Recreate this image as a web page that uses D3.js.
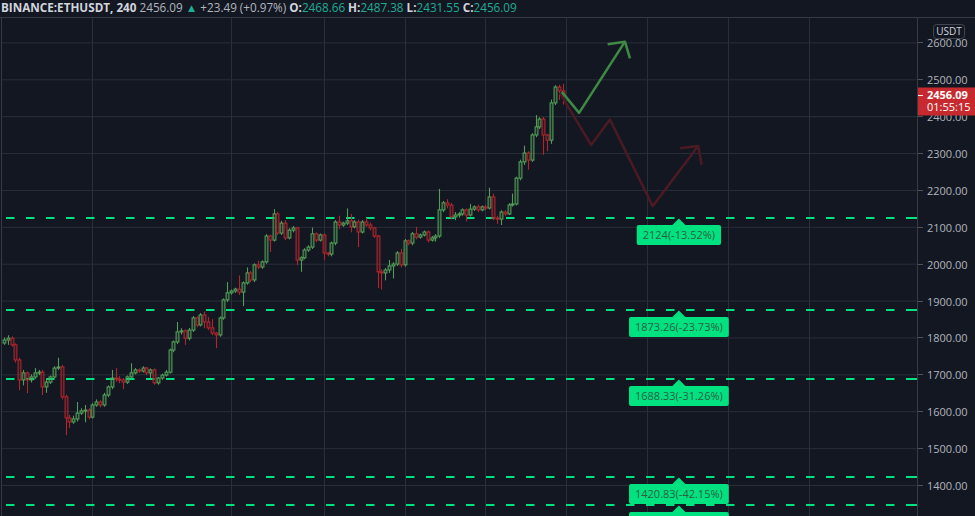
<!DOCTYPE html>
<html>
<head>
<meta charset="utf-8">
<script src="https://cdn.jsdelivr.net/npm/d3@7"></script>
<style>
  html, body { margin: 0; padding: 0; background: #131722; overflow: hidden; }
  svg { display: block; font-family: "Open Sans", "Noto Sans", sans-serif; }
</style>
</head>
<body>
<svg id="chart" width="975" height="516"></svg>
<script>
var colorBg = "#131722";
var colorGrid = "#2a2e39";
var colorText = "#b2b5be";
var colorUp = "#529d58";
var colorDown = "#b0252e";
var colorLevel = "#00e27f";

// 4h candles, index 0..145
var opens = [1785, 1793, 1798, 1780, 1739, 1685, 1704, 1685, 1693, 1704,
  1706, 1666, 1679, 1693, 1717, 1720, 1639, 1582, 1571, 1579,
  1595, 1601, 1603, 1584, 1617, 1625, 1617, 1644, 1666, 1690,
  1687, 1685, 1679, 1693, 1704, 1712, 1709, 1717, 1704, 1712,
  1677, 1690, 1698, 1706, 1766, 1788, 1815, 1818, 1798, 1820,
  1853, 1834, 1861, 1842, 1826, 1812, 1807, 1853, 1902, 1921,
  1926, 1931, 1923, 1948, 1975, 1956, 1997, 1991, 2005, 2075,
  2064, 2135, 2083, 2110, 2070, 2091, 2097, 2010, 2016, 2037,
  2045, 2081, 2064, 2078, 2029, 2026, 2056, 2113, 2105, 2110,
  2116, 2100, 2113, 2086, 2113, 2105, 2097, 2075, 1978, 1975,
  1983, 1994, 1999, 2029, 1997, 2062, 2056, 2081, 2072, 2078,
  2086, 2064, 2070, 2075, 2146, 2165, 2159, 2127, 2132, 2135,
  2146, 2132, 2148, 2154, 2146, 2154, 2151, 2181, 2124, 2121,
  2140, 2135, 2159, 2162, 2232, 2276, 2300, 2281, 2349, 2371,
  2392, 2349, 2335, 2436, 2479, 2468.66];
var closes = [1793, 1798, 1780, 1739, 1685, 1704, 1685, 1693, 1704, 1706,
  1666, 1679, 1693, 1717, 1720, 1639, 1582, 1571, 1579, 1595,
  1601, 1603, 1584, 1617, 1625, 1617, 1644, 1666, 1690, 1687,
  1685, 1679, 1693, 1704, 1712, 1709, 1717, 1704, 1712, 1677,
  1690, 1698, 1706, 1766, 1788, 1815, 1818, 1798, 1820, 1853,
  1834, 1861, 1842, 1826, 1812, 1807, 1853, 1902, 1921, 1926,
  1931, 1923, 1948, 1975, 1956, 1997, 1991, 2005, 2075, 2064,
  2135, 2083, 2110, 2070, 2091, 2097, 2010, 2016, 2037, 2045,
  2081, 2064, 2078, 2029, 2026, 2056, 2113, 2105, 2110, 2116,
  2100, 2113, 2086, 2113, 2105, 2097, 2075, 1978, 1975, 1983,
  1994, 1999, 2029, 1997, 2062, 2056, 2081, 2072, 2078, 2086,
  2064, 2070, 2075, 2146, 2165, 2159, 2127, 2132, 2135, 2146,
  2132, 2148, 2154, 2146, 2154, 2151, 2181, 2124, 2121, 2140,
  2135, 2159, 2162, 2232, 2276, 2300, 2281, 2349, 2371, 2392,
  2349, 2335, 2436, 2479, 2468.66, 2456.09];
var highs = [1800, 1806, 1803, 1784, 1745, 1712, 1708, 1700, 1717, 1712,
  1712, 1690, 1697, 1722, 1745, 1726, 1645, 1590, 1588, 1625,
  1608, 1617, 1608, 1622, 1632, 1630, 1650, 1670, 1712, 1717,
  1695, 1690, 1697, 1730, 1717, 1716, 1722, 1720, 1716, 1716,
  1693, 1702, 1712, 1770, 1792, 1842, 1825, 1822, 1826, 1858,
  1857, 1866, 1870, 1855, 1850, 1815, 1857, 1906, 1950, 1930,
  1935, 1968, 1952, 1990, 1980, 2001, 2008, 2009, 2080, 2079,
  2148, 2140, 2116, 2118, 2096, 2102, 2100, 2020, 2042, 2050,
  2098, 2085, 2082, 2082, 2032, 2060, 2118, 2130, 2114, 2150,
  2135, 2118, 2120, 2118, 2124, 2112, 2100, 2078, 1985, 1988,
  2010, 2004, 2034, 2040, 2067, 2066, 2086, 2100, 2082, 2090,
  2090, 2075, 2080, 2203, 2170, 2175, 2165, 2140, 2140, 2150,
  2150, 2162, 2158, 2160, 2158, 2160, 2206, 2190, 2130, 2145,
  2145, 2164, 2190, 2236, 2282, 2320, 2305, 2354, 2403, 2397,
  2398, 2352, 2445, 2484, 2485, 2487.38];
var lows = [1780, 1780, 1775, 1732, 1657, 1670, 1649, 1678, 1688, 1698,
  1644, 1650, 1674, 1690, 1712, 1632, 1535, 1555, 1566, 1572,
  1590, 1570, 1578, 1580, 1612, 1610, 1612, 1638, 1660, 1680,
  1676, 1660, 1674, 1688, 1700, 1704, 1705, 1698, 1690, 1672,
  1672, 1685, 1694, 1702, 1760, 1782, 1808, 1780, 1792, 1815,
  1828, 1830, 1825, 1820, 1806, 1771, 1802, 1848, 1896, 1916,
  1921, 1915, 1885, 1943, 1950, 1950, 1985, 1986, 2000, 2032,
  2060, 2078, 2078, 2064, 2066, 2085, 1996, 1978, 2012, 2032,
  2040, 2058, 2060, 2010, 2020, 2020, 2050, 2094, 2100, 2105,
  2085, 2096, 2045, 2082, 2100, 2090, 2070, 1934, 1930, 1955,
  1975, 1960, 1994, 1990, 1992, 2050, 2050, 2066, 2068, 2074,
  2058, 2060, 2060, 2070, 2140, 2150, 2120, 2118, 2125, 2130,
  2115, 2128, 2143, 2140, 2142, 2145, 2147, 2118, 2108, 2105,
  2130, 2132, 2155, 2158, 2226, 2268, 2255, 2276, 2343, 2365,
  2295, 2305, 2325, 2430, 2444, 2431.55];

var priceTicks = [1400, 1500, 1600, 1700, 1800, 1900, 2000, 2100, 2200, 2300, 2400, 2500, 2600];
var timeGridIdx = [23, 59, 83, 104, 125, 146, 167, 188, 209];

var levelPrices = [2124, 1873.26, 1688.33, 1420.83, 1346.07];
var levelLabels = ["2124(-13.52%)", "1873.26(-23.73%)", "1688.33(-31.26%)", "1420.83(-42.15%)", "1346.07(-45.19%)"];
var levelLabelIdx = 175.2;

// drawn projections: [bar index, price]
var bullPath = [[144.8, 2466], [149.3, 2409], [161.2, 2602]];
var bullHead = [[156.7, 2595], [161.2, 2602], [162.5, 2557]];
var bearPath = [[144.3, 2463], [152.4, 2322], [157.3, 2391], [168.4, 2156], [180.2, 2319]];
var bearHead = [[175.5, 2313], [180.2, 2319], [181.1, 2268]];

var header = [
  { t: "BINANCE:ETHUSDT, 240", c: "#d1d4dc", w: "bold" },
  { t: " 2456.09 ", c: colorText, w: "normal" },
  { t: "\u25B2", c: "#22ab94", w: "normal" },
  { t: " +23.49 (+0.97%) ", c: colorText, w: "normal" },
  { t: "O:", c: "#d1d4dc", w: "bold" },
  { t: "2468.66 ", c: "#22ab94", w: "normal" },
  { t: "H:", c: "#d1d4dc", w: "bold" },
  { t: "2487.38 ", c: "#22ab94", w: "normal" },
  { t: "L:", c: "#d1d4dc", w: "bold" },
  { t: "2431.55 ", c: "#22ab94", w: "normal" },
  { t: "C:", c: "#d1d4dc", w: "bold" },
  { t: "2456.09", c: "#22ab94", w: "normal" }
];

var W = 975, H = 516;
var plotLeft = 2, plotRight = 917, plotTop = 17;

var svg = d3.select("#chart");
svg.append("rect").attr("width", W).attr("height", H).attr("fill", colorBg);

var x = d3.scaleLinear().domain([-1, 237]).range([0, plotRight]);
var y = d3.scaleLinear().domain([1400, 2500]).range([485, 79.3]);

var clip = svg.append("defs").append("clipPath").attr("id", "plotclip");
clip.append("rect").attr("x", plotLeft).attr("y", plotTop)
  .attr("width", plotRight - plotLeft).attr("height", H - plotTop);

// grid
var grid = svg.append("g").attr("clip-path", "url(#plotclip)");
grid.selectAll("line.h").data(priceTicks).enter().append("line")
  .attr("x1", plotLeft).attr("x2", plotRight)
  .attr("y1", function(d) { return y(d) + 0.5; })
  .attr("y2", function(d) { return y(d) + 0.5; })
  .attr("stroke", colorGrid).attr("stroke-width", 1);
grid.selectAll("line.v").data(timeGridIdx).enter().append("line")
  .attr("x1", function(d) { return Math.round(x(d)) + 0.5; })
  .attr("x2", function(d) { return Math.round(x(d)) + 0.5; })
  .attr("y1", plotTop).attr("y2", H)
  .attr("stroke", colorGrid).attr("stroke-width", 1);

// frame
svg.append("line").attr("x1", 0).attr("x2", W).attr("y1", plotTop + 0.5).attr("y2", plotTop + 0.5)
  .attr("stroke", "#363a45");
svg.append("line").attr("x1", plotLeft - 0.5).attr("x2", plotLeft - 0.5).attr("y1", plotTop).attr("y2", H)
  .attr("stroke", "#363a45");
svg.append("line").attr("x1", plotRight + 0.5).attr("x2", plotRight + 0.5).attr("y1", plotTop).attr("y2", H)
  .attr("stroke", "#363a45");

var plot = svg.append("g").attr("clip-path", "url(#plotclip)");

// level lines
var levels = plot.append("g");
levelPrices.forEach(function(p) {
  var yy = Math.round(y(p));
  levels.append("line")
    .attr("x1", 6).attr("x2", plotRight)
    .attr("y1", yy).attr("y2", yy)
    .attr("stroke", colorLevel).attr("stroke-width", 2)
    .attr("stroke-dasharray", "8.5,11.5");
  levels.append("line")
    .attr("x1", plotRight - 8).attr("x2", plotRight)
    .attr("y1", yy).attr("y2", yy)
    .attr("stroke", colorLevel).attr("stroke-width", 2);
});

// candles
var idx = d3.range(closes.length);
var candles = plot.append("g");
var bodyW = 2.8;
idx.forEach(function(i) {
  var up = closes[i] >= opens[i];
  var col = up ? colorUp : colorDown;
  var cx = Math.round(x(i)) + 0.5;
  var top = y(Math.max(opens[i], closes[i]));
  var bot = y(Math.min(opens[i], closes[i]));
  candles.append("line")
    .attr("x1", cx).attr("x2", cx)
    .attr("y1", y(highs[i])).attr("y2", top)
    .attr("stroke", col).attr("stroke-width", 1.1);
  candles.append("line")
    .attr("x1", cx).attr("x2", cx)
    .attr("y1", bot).attr("y2", y(lows[i]))
    .attr("stroke", col).attr("stroke-width", 1.1);
  candles.append("rect")
    .attr("x", cx - bodyW / 2).attr("y", top)
    .attr("width", bodyW).attr("height", Math.max(1, bot - top))
    .attr("fill", up ? "rgba(82,157,88,0.18)" : "rgba(176,37,46,0.18)")
    .attr("stroke", col).attr("stroke-width", 1.1);
});

// projection arrows
var line = d3.line()
  .x(function(d) { return x(d[0]); })
  .y(function(d) { return y(d[1]); });
plot.append("path").datum(bearPath).attr("d", line)
  .attr("fill", "none").attr("stroke", "#4b1a22").attr("stroke-width", 2.5)
  .attr("stroke-linejoin", "round");
plot.append("path").datum(bearHead).attr("d", line)
  .attr("fill", "none").attr("stroke", "#4b1a22").attr("stroke-width", 2.5)
  .attr("stroke-linejoin", "round");
plot.append("path").datum(bullPath).attr("d", line)
  .attr("fill", "none").attr("stroke", "#3e8a45").attr("stroke-width", 2.5)
  .attr("stroke-linejoin", "round");
plot.append("path").datum(bullHead).attr("d", line)
  .attr("fill", "none").attr("stroke", "#3e8a45").attr("stroke-width", 2.5)
  .attr("stroke-linejoin", "round");

// level labels
levelPrices.forEach(function(p, k) {
  var yy = Math.round(y(p));
  var cx = x(levelLabelIdx);
  var g = plot.append("g");
  var t = g.append("text")
    .attr("x", cx).attr("y", yy + 21)
    .attr("text-anchor", "middle")
    .attr("font-size", "11px")
    .attr("fill", "#2d5d45")
    .text(levelLabels[k]);
  var tw = t.node().getComputedTextLength();
  g.insert("rect", "text")
    .attr("x", cx - tw / 2 - 6).attr("y", yy + 7)
    .attr("width", tw + 12).attr("height", 20)
    .attr("rx", 2).attr("fill", colorLevel);
  g.insert("path", "text")
    .attr("d", "M" + (cx - 7) + "," + (yy + 7.5) + "L" + cx + "," + (yy + 0.5) + "L" + (cx + 7) + "," + (yy + 7.5) + "Z")
    .attr("fill", colorLevel);
});

// price axis
var axis = svg.append("g");
priceTicks.forEach(function(p) {
  var yy = Math.round(y(p)) + 0.5;
  axis.append("line").attr("x1", plotRight + 1).attr("x2", plotRight + 6)
    .attr("y1", yy).attr("y2", yy).attr("stroke", "#50535e");
  axis.append("text").attr("x", 927).attr("y", yy + 4)
    .attr("font-size", "11px").attr("fill", colorText)
    .text(d3.format(".2f")(p));
});

// unit badge
axis.append("rect").attr("x", 933.5).attr("y", 24.5).attr("width", 31).attr("height", 14)
  .attr("rx", 3).attr("fill", colorBg).attr("stroke", "#434651");
axis.append("text").attr("x", 949).attr("y", 35).attr("text-anchor", "middle")
  .attr("font-size", "10px").attr("fill", "#d1d4dc").text("USDT");

// last price tag
var lastY = y(closes[closes.length - 1]);
axis.append("rect").attr("x", plotRight + 1).attr("y", lastY - 8).attr("width", W - plotRight)
  .attr("height", 28).attr("fill", "#c62a2f");
axis.append("line").attr("x1", plotRight + 1).attr("x2", plotRight + 6)
  .attr("y1", Math.round(lastY) + 0.5).attr("y2", Math.round(lastY) + 0.5).attr("stroke", "#f0f0f0");
axis.append("text").attr("x", 927).attr("y", lastY + 4)
  .attr("font-size", "11px").attr("font-weight", "bold").attr("fill", "#ffffff")
  .text(d3.format(".2f")(closes[closes.length - 1]));
axis.append("text").attr("x", 927).attr("y", lastY + 16)
  .attr("font-size", "11px").attr("fill", "#ffffff").text("01:55:15");

// header legend
var ht = svg.append("text").attr("x", 1).attr("y", 12).attr("font-size", "11.7px")
  .attr("xml:space", "preserve");
header.forEach(function(h) {
  ht.append("tspan").attr("fill", h.c).attr("font-weight", h.w).text(h.t);
});
</script>
</body>
</html>
